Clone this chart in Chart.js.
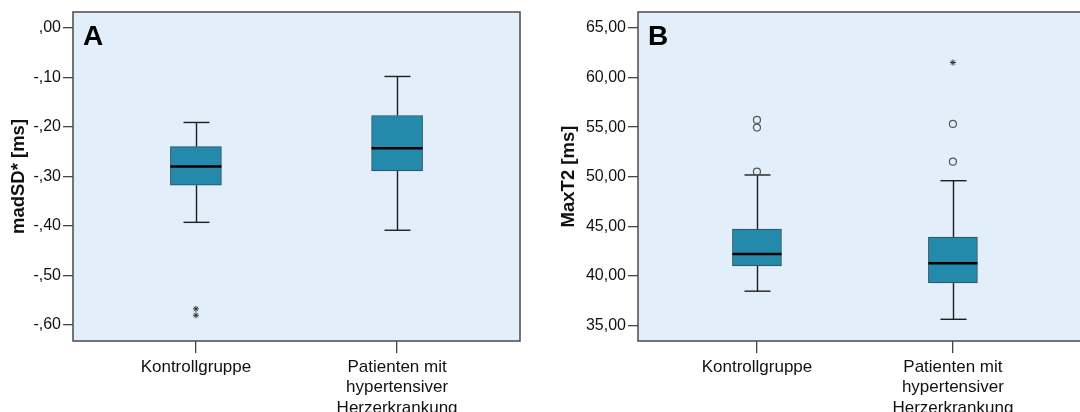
<!DOCTYPE html>
<html>
<head>
<meta charset="utf-8">
<script src="https://cdn.jsdelivr.net/npm/chart.js@4.4.0/dist/chart.umd.min.js"></script>
<style>
  html, body { margin: 0; padding: 0; background: #fff; overflow: hidden; }
  #wrap { position: relative; width: 1080px; height: 412px; overflow: hidden; }
  #chartA { position: absolute; left: 0; top: 0; }
  #chartB { position: absolute; left: 540px; top: 0; }
</style>
</head>
<body>
<div id="wrap">
  <canvas id="chartA" width="540" height="412"></canvas>
  <canvas id="chartB" width="560" height="412"></canvas>
</div>
<script>
const groups = [["Kontrollgruppe"], ["Patienten mit", "hypertensiver", "Herzerkrankung"]]

// Panel A: madSD* [ms]
const madLow = [-0.393, -0.409]
const madQ1 = [-0.318, -0.289]
const madMedian = [-0.280, -0.243]
const madQ3 = [-0.240, -0.177]
const madHigh = [-0.191, -0.098]
const madOutliers = [[], []]
const madExtremes = [[-0.568, -0.581], []]
const madTicks = [-0.6, -0.5, -0.4, -0.3, -0.2, -0.1, 0]

// Panel B: MaxT2 [ms]
const maxLow = [38.44, 35.6]
const maxQ1 = [41.0, 39.28]
const maxMedian = [42.18, 41.27]
const maxQ3 = [44.71, 43.9]
const maxHigh = [50.17, 49.59]
const maxOutliers = [[55.73, 54.95, 50.5], [55.32, 51.51]]
const maxExtremes = [[], [61.52]]
const maxTicks = [35, 40, 45, 50, 55, 60, 65]

const FONT = "'Liberation Sans', Arial, sans-serif"

function germanTick(v) {
  return v.toFixed(2).replace(".", ",").replace(/^(-?)0,/, "$1,")
}

function toPoints(lists) {
  return lists.flatMap((vals, i) => vals.map(v => ({ x: i, y: v })))
}

const boxPlugin = {
  id: "boxWhiskers",
  beforeDraw(chart) {
    const { ctx, chartArea: a } = chart
    ctx.save()
    ctx.fillStyle = "#e2eefa"
    ctx.fillRect(a.left, a.top, a.width, a.height)
    ctx.restore()
  },
  beforeDatasetsDraw(chart, args, opts) {
    const { ctx } = chart
    const x = chart.scales.x, y = chart.scales.y
    ctx.save()
    ctx.strokeStyle = "#1e1e1e"
    ctx.lineWidth = 1.4
    opts.low.forEach((lo, i) => {
      const cx = Math.round(x.getPixelForValue(i)) + 0.5
      const pairs = [[opts.high[i], opts.q3[i]], [opts.q1[i], lo]]
      pairs.forEach(([a, b]) => {
        ctx.beginPath()
        ctx.moveTo(cx, y.getPixelForValue(a))
        ctx.lineTo(cx, y.getPixelForValue(b))
        ctx.stroke()
      })
      ;[opts.high[i], lo].forEach(v => {
        const py = y.getPixelForValue(v)
        ctx.beginPath()
        ctx.moveTo(cx - opts.cap, py)
        ctx.lineTo(cx + opts.cap, py)
        ctx.stroke()
      })
    })
    ctx.restore()
  },
  afterDatasetsDraw(chart, args, opts) {
    const { ctx } = chart
    const x = chart.scales.x, y = chart.scales.y
    const bars = chart.getDatasetMeta(0).data
    ctx.save()
    ctx.strokeStyle = "#000"
    ctx.lineWidth = 2.5
    opts.median.forEach((m, i) => {
      const cx = x.getPixelForValue(i)
      const half = bars[i].width / 2
      const py = y.getPixelForValue(m)
      ctx.beginPath()
      ctx.moveTo(cx - half, py)
      ctx.lineTo(cx + half, py)
      ctx.stroke()
    })
    ctx.restore()
  },
  afterDraw(chart, args, opts) {
    const { ctx, chartArea: a } = chart
    ctx.save()
    ctx.strokeStyle = "#4a4a4a"
    ctx.lineWidth = 1.5
    ctx.strokeRect(a.left, a.top, a.width, a.height)
    ctx.fillStyle = "#000"
    ctx.font = "bold 28px " + FONT
    ctx.textBaseline = "alphabetic"
    ctx.fillText(opts.letter, a.left + 10, 45)
    ctx.restore()
  }
}

function makeChart(id, s) {
  return new Chart(document.getElementById(id), {
    type: "bar",
    data: {
      datasets: [
        {
          data: s.q1.map((q, i) => ({ x: i, y: [q, s.q3[i]] })),
          backgroundColor: "#238aab",
          borderColor: "#2e4a57",
          borderWidth: 1,
          borderSkipped: false,
          barThickness: s.boxWidth
        },
        {
          type: "scatter",
          data: toPoints(s.outliers),
          pointStyle: "circle",
          radius: 3.5,
          backgroundColor: "rgba(0,0,0,0)",
          borderColor: "#555",
          borderWidth: 1.2
        },
        {
          type: "scatter",
          data: toPoints(s.extremes),
          pointStyle: "star",
          radius: 3,
          borderColor: "#333",
          borderWidth: 1
        }
      ]
    },
    options: {
      responsive: false,
      animation: false,
      layout: { padding: { top: 12, right: s.padRight, left: 0, bottom: 0 } },
      plugins: {
        legend: { display: false },
        tooltip: { enabled: false },
        boxWhiskers: {
          low: s.low, q1: s.q1, median: s.median, q3: s.q3, high: s.high,
          cap: 13, letter: s.letter
        }
      },
      scales: {
        x: {
          type: "linear",
          min: s.xMin,
          max: s.xMax,
          offset: false,
          afterBuildTicks: axis => { axis.ticks = groups.map((g, i) => ({ value: i })) },
          afterFit: axis => { axis.height = 71 },
          ticks: {
            callback: v => groups[v],
            font: { family: FONT, size: 17 },
            color: "#111",
            padding: 4,
            maxRotation: 0
          },
          grid: { offset: false, drawOnChartArea: false, tickLength: 12, color: "#444", lineWidth: 1.3 },
          border: { display: false }
        },
        y: {
          min: s.min,
          max: s.max,
          afterBuildTicks: axis => { axis.ticks = s.ticks.map(v => ({ value: v })) },
          afterFit: axis => { axis.width = s.axisWidth },
          ticks: {
            callback: v => germanTick(v),
            font: { family: FONT, size: 16 },
            color: "#111",
            padding: 2
          },
          grid: { drawOnChartArea: false, tickLength: 10, color: "#444", lineWidth: 1.3 },
          border: { display: false },
          title: {
            display: true,
            text: s.title,
            font: { family: FONT, size: 18.5, weight: "bold" },
            color: "#111",
            padding: { top: s.titlePad, bottom: 0 }
          }
        }
      }
    },
    plugins: [boxPlugin]
  })
}

makeChart("chartA", {
  low: madLow, q1: madQ1, median: madMedian, q3: madQ3, high: madHigh,
  outliers: madOutliers, extremes: madExtremes, ticks: madTicks,
  min: -0.633, max: 0.0324, xMin: -0.611, xMax: 1.611,
  title: "madSD* [ms]", letter: "A",
  boxWidth: 51, axisWidth: 73, padRight: 20, titlePad: 8
})

makeChart("chartB", {
  low: maxLow, q1: maxQ1, median: maxMedian, q3: maxQ3, high: maxHigh,
  outliers: maxOutliers, extremes: maxExtremes, ticks: maxTicks,
  min: 33.41, max: 66.62, xMin: -0.607, xMax: 1.674,
  title: "MaxT2 [ms]", letter: "B",
  boxWidth: 49, axisWidth: 98, padRight: 15, titlePad: 18
})
</script>
</body>
</html>
